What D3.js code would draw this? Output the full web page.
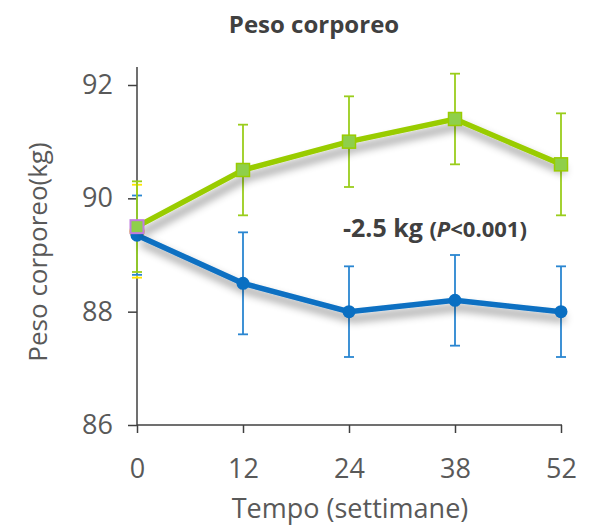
<!DOCTYPE html>
<html>
<head>
<meta charset="utf-8">
<script src="https://cdn.jsdelivr.net/npm/d3@7"></script>
<style>
  body { margin: 0; background: #fff; }
  svg { display: block; font-family: "Open Sans", "Noto Sans", sans-serif; }
</style>
</head>
<body>
<svg id="chart" width="591" height="529"></svg>
<script>
// Weeks of follow-up (shown as equally spaced categories)
const weeks = ["0", "12", "24", "38", "52"];
// Body weight (kg) per group, with standard error
const groupA = [89.5, 90.5, 91.0, 91.4, 90.6];
const groupAErr = [0.8, 0.8, 0.8, 0.8, 0.9];
const groupB = [89.35, 88.5, 88.0, 88.2, 88.0];
const groupBErr = [0.7, 0.9, 0.8, 0.8, 0.8];
// Baseline reference point
const baseline = [89.42];
const baselineErr = [0.82];
const yTicks = [86, 88, 90, 92];

const svg = d3.select("#chart");
const plotLeft = 137, plotRight = 561, plotTop = 67, plotBottom = 425;

const x = d3.scalePoint().domain(weeks).range([plotLeft, plotRight]);
const y = d3.scaleLinear().domain([86, 92]).range([plotBottom, 85]);

// Soft drop shadow under the lines
const defs = svg.append("defs");
const f = defs.append("filter").attr("id", "shadow")
  .attr("x", "-10%").attr("y", "-30%").attr("width", "130%").attr("height", "180%");
f.append("feDropShadow").attr("dx", 4).attr("dy", 7).attr("stdDeviation", 4)
  .attr("flood-color", "#000").attr("flood-opacity", 0.45);

// Title
svg.append("text").attr("x", 314).attr("y", 33).attr("text-anchor", "middle")
  .attr("font-size", 24).attr("font-weight", "bold").attr("fill", "#404040")
  .text("Peso corporeo");

// Axes
const axisColor = "#404040";
svg.append("line").attr("x1", plotLeft).attr("x2", plotLeft).attr("y1", plotTop).attr("y2", plotBottom)
  .attr("stroke", axisColor).attr("stroke-width", 1.5);
svg.append("line").attr("x1", plotLeft).attr("x2", plotRight + 1).attr("y1", plotBottom).attr("y2", plotBottom)
  .attr("stroke", axisColor).attr("stroke-width", 1.5);

const yAxis = svg.append("g").attr("transform", `translate(${plotLeft},0)`)
  .call(d3.axisLeft(y).tickValues(yTicks).tickSize(9).tickPadding(15).tickFormat(d3.format("d")));
yAxis.select(".domain").remove();
yAxis.selectAll(".tick line").attr("stroke", axisColor).attr("stroke-width", 1.5);
yAxis.selectAll(".tick text").attr("font-size", 27).attr("fill", "#595959")
  .attr("font-family", "'Open Sans', sans-serif");

const xAxis = svg.append("g").attr("transform", `translate(0,${plotBottom})`)
  .call(d3.axisBottom(x).tickSize(8));
xAxis.select(".domain").remove();
xAxis.selectAll(".tick line").attr("stroke", axisColor).attr("stroke-width", 1.5);
xAxis.selectAll(".tick text").attr("font-size", 27).attr("fill", "#595959")
  .attr("font-family", "'Open Sans', sans-serif")
  .attr("y", 53).attr("dy", 0);

// Axis titles
svg.append("text").attr("x", 350).attr("y", 518).attr("text-anchor", "middle")
  .attr("font-size", 27).attr("fill", "#595959").text("Tempo (settimane)");
svg.append("text").attr("transform", `translate(47,252) rotate(-90)`)
  .attr("text-anchor", "middle").attr("font-size", 26).attr("fill", "#595959")
  .text("Peso corporeo(kg)");

// Error bars
function errorBars(vals, errs, color, cap) {
  const g = svg.append("g").attr("stroke", color).attr("stroke-width", 1.8);
  vals.forEach((v, i) => {
    const cx = x(weeks[i]);
    g.append("line").attr("x1", cx).attr("x2", cx).attr("y1", y(v + errs[i])).attr("y2", y(v - errs[i]));
    [v + errs[i], v - errs[i]].forEach(e => {
      g.append("line").attr("x1", cx - cap).attr("x2", cx + cap).attr("y1", y(e)).attr("y2", y(e));
    });
  });
}
errorBars(baseline, baselineErr, "#ffe600", 5);
errorBars(groupB, groupBErr, "#2a86d1", 5);
errorBars(groupA, groupAErr, "#9acd1c", 5);

const line = d3.line().x((d, i) => x(weeks[i])).y(d => y(d));

// Blue group
svg.append("path").datum(groupB).attr("d", line).attr("fill", "none")
  .attr("stroke", "#0a6fc2").attr("stroke-width", 5.5).attr("filter", "url(#shadow)");
// Baseline marker
svg.selectAll(".base").data(baseline).enter().append("circle")
  .attr("cx", (d, i) => x(weeks[i])).attr("cy", d => y(d)).attr("r", 7)
  .attr("fill", "#0a6fc2").attr("stroke", "#ffe600").attr("stroke-width", 1.5);
svg.selectAll(".ptB").data(groupB).enter().append("circle")
  .attr("cx", (d, i) => x(weeks[i])).attr("cy", d => y(d)).attr("r", 6.5)
  .attr("fill", "#0a6fc2");

// Green group
svg.append("path").datum(groupA).attr("d", line).attr("fill", "none")
  .attr("stroke", "#99cc00").attr("stroke-width", 5.5).attr("filter", "url(#shadow)");
svg.selectAll(".ptA").data(groupA).enter().append("rect")
  .attr("x", (d, i) => x(weeks[i]) - 6.5).attr("y", d => y(d) - 6.5)
  .attr("width", 13).attr("height", 13)
  .attr("fill", "#8fcf4a")
  .attr("stroke", (d, i) => i === 0 ? "#c27ce0" : "#99cc00")
  .attr("stroke-width", (d, i) => i === 0 ? 2 : 1.5);

// Difference annotation
const ann = svg.append("text").attr("x", 343).attr("y", 237)
  .attr("font-weight", "bold").attr("fill", "#404040");
ann.append("tspan").attr("font-size", 25).text("-2.5 kg ");
ann.append("tspan").attr("font-size", 22).text("(");
ann.append("tspan").attr("font-size", 22).attr("font-style", "italic").text("P");
ann.append("tspan").attr("font-size", 22).text("<0.001)");
</script>
</body>
</html>
